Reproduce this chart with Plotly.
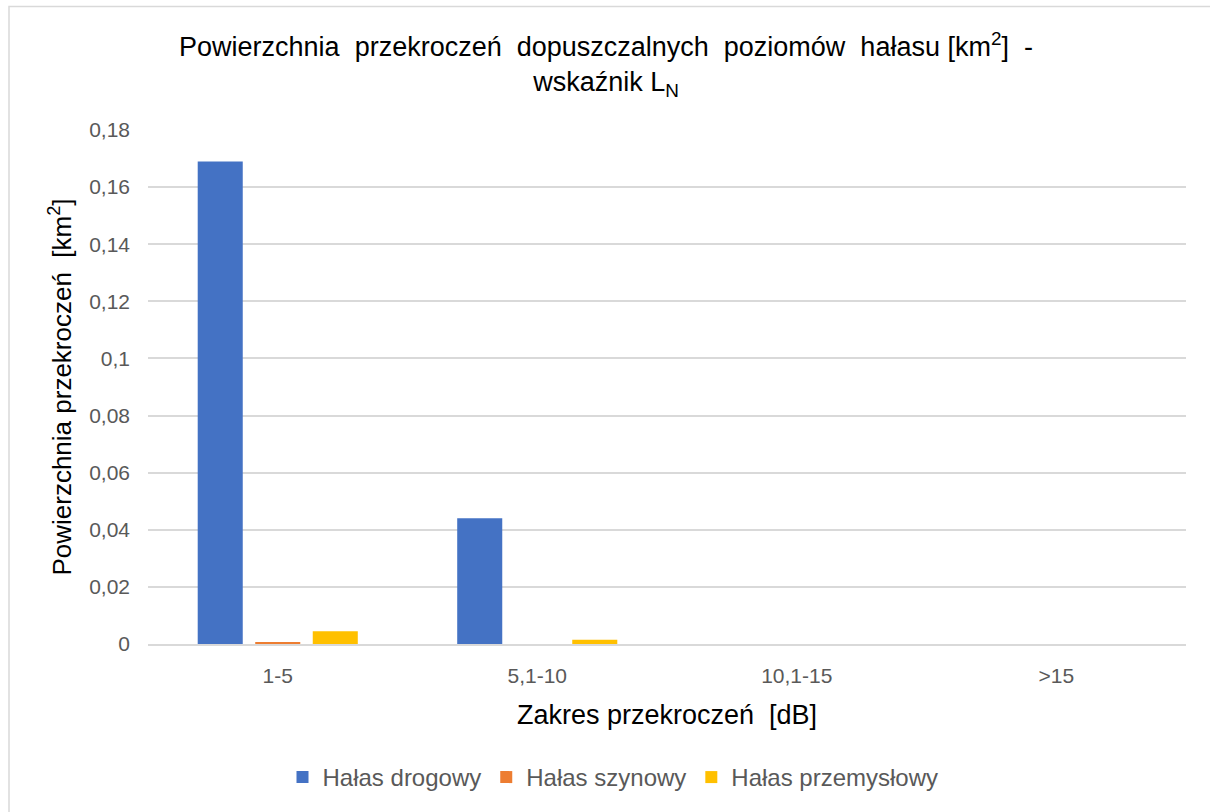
import plotly.graph_objects as go

# Zakresy przekroczeń i powierzchnie [km2]
categories = ["1-5", "5,1-10", "10,1-15", ">15"]
halas_drogowy = [0.169, 0.044, 0.0, 0.0]
halas_szynowy = [0.0007, 0.0, 0.0, 0.0]
halas_przemyslowy = [0.0045, 0.0015, 0.0, 0.0]

series_names = ["Hałas drogowy", "Hałas szynowy", "Hałas przemysłowy"]
series_colors = ["#4472C4", "#ED7D31", "#FFC000"]

y_tick_vals = [0, 0.02, 0.04, 0.06, 0.08, 0.1, 0.12, 0.14, 0.16, 0.18]
y_tick_text = ["0", "0,02", "0,04", "0,06", "0,08", "0,1", "0,12", "0,14", "0,16", "0,18"]

W, H = 1210, 812
ml, mr, mt, mb = 148, 24, 130, 166
FONT = "Liberation Sans, Arial, sans-serif"

fig = go.Figure()
for name, vals, col in zip(series_names,
                           [halas_drogowy, halas_szynowy, halas_przemyslowy],
                           series_colors):
    fig.add_trace(go.Bar(x=categories, y=vals, name=name,
                         marker=dict(color=col, line=dict(width=0))))

pw = W - ml - mr
ph = H - mt - mb

def px_x(x):
    return (x - ml) / pw

def px_y(y):
    return (H - mb - y) / ph

# ramka wykresu
fig.add_shape(type="rect", xref="paper", yref="paper",
              x0=px_x(9), x1=px_x(1230), y0=px_y(830), y1=px_y(6),
              line=dict(color="#d9d9d9", width=1.5), fillcolor="rgba(0,0,0,0)",
              layer="below")

fig.update_layout(
    width=W, height=H,
    margin=dict(l=ml, r=mr, t=mt, b=mb),
    paper_bgcolor="white", plot_bgcolor="white",
    barmode="group", bargap=0.335, bargroupgap=0.217,
    font=dict(family=FONT, color="#595959"),
    title=dict(
        text="Powierzchnia  przekroczeń  dopuszczalnych  poziomów  hałasu [km<sup>2</sup>]  -<br>wskaźnik L<sub>N</sub>",
        xref="container", x=606 / W, xanchor="center",
        yref="container", y=1 - 56 / H, yanchor="top",
        font=dict(size=27, color="#000000")),
    showlegend=True,
    legend=dict(orientation="h", x=px_x(613), xanchor="center",
                y=px_y(780), yanchor="middle",
                font=dict(size=24, color="#595959"),
                itemwidth=30, traceorder="normal"),
)

fig.update_xaxes(
    showgrid=False, showline=True, linecolor="#d9d9d9", linewidth=2,
    ticks="", tickfont=dict(size=21, color="#595959"),
    ticklabelstandoff=12, automargin=False,
    title=dict(text="Zakres przekroczeń  [dB]", font=dict(size=27, color="#000000"),
               standoff=19),
)
fig.update_yaxes(
    range=[0, 0.18], tickvals=y_tick_vals, ticktext=y_tick_text,
    showgrid=True, gridcolor="#d9d9d9", gridwidth=1.5, zeroline=False,
    showline=False, ticks="", tickfont=dict(size=21, color="#595959"),
    ticklabelstandoff=17, automargin=False,
    title=dict(text="Powierzchnia przekroczeń  [km<sup>2</sup>]",
               font=dict(size=26, color="#000000"), standoff=10),
)

fig.write_html("out.html")
